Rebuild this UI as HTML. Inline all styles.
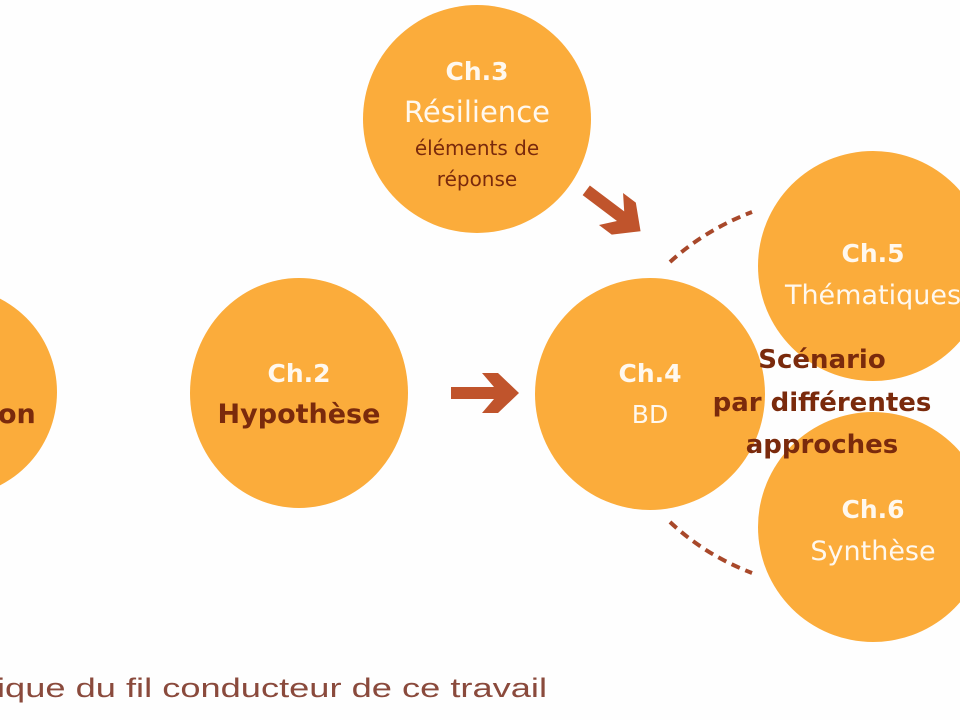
<!DOCTYPE html>
<html><head><meta charset="utf-8"><style>
body{margin:0;background:#fefefe;}
svg{display:block}
text{font-family:"DejaVu Sans","Liberation Sans",sans-serif;}
.b{font-weight:bold}
.n{font-weight:normal}
.m{text-anchor:middle}
</style></head><body>
<svg width="960" height="720" viewBox="0 0 960 720">
<rect width="960" height="720" fill="#fefefe"/>
<g fill="#fbac3b">
<circle cx="-48" cy="392" r="105"/>
<ellipse cx="299" cy="393" rx="109" ry="115"/>
<circle cx="477" cy="119" r="114"/>
<ellipse cx="650" cy="394" rx="115" ry="116"/>
<circle cx="873" cy="266" r="115"/>
<circle cx="873" cy="527" r="115"/>
</g>
<g fill="#c0542c">
<polygon points="451,387 494,387 482,373 498,373 519,393 498,413 482,413 494,399 451,399"/>
<g transform="translate(615,212) rotate(37)">
<polygon points="-36,-6 7,-6 -5,-20 11,-20 32,0 11,20 -5,20 7,6 -36,6"/>
</g>
</g>
<g fill="none" stroke="#a8482a" stroke-width="4" stroke-dasharray="9,6">
<path d="M670,262 Q705,230 752,212"/>
<path d="M670,522 Q705,555 752,573"/>
</g>
<g fill="#fff8ee">
<text class="b m" x="477" y="80" font-size="25">Ch.3</text>
<text class="n m" x="477" y="122" font-size="29">Résilience</text>
<text class="b m" x="299" y="382" font-size="25">Ch.2</text>
<text class="b m" x="650" y="382" font-size="25">Ch.4</text>
<text class="n m" x="650" y="423" font-size="25">BD</text>
<text class="b m" x="873" y="262" font-size="25">Ch.5</text>
<text class="n m" x="873" y="304" font-size="27">Thématiques</text>
<text class="b m" x="873" y="518" font-size="25">Ch.6</text>
<text class="n m" x="873" y="560" font-size="27">Synthèse</text>
</g>
<g fill="#7a2a0c">
<text class="n m" x="477" y="155" font-size="20">éléments de</text>
<text class="n m" x="477" y="186" font-size="20">réponse</text>
<text class="b m" x="299" y="423" font-size="27">Hypothèse</text>
<text class="b" x="-2" y="423" font-size="27">on</text>
<text class="b m" x="822" y="368" font-size="26">Scénario</text>
<text class="b m" x="822" y="411" font-size="26">par différentes</text>
<text class="b m" x="822" y="453" font-size="26">approches</text>
</g>
<text class="n" x="-3" y="697" font-size="27" fill="#8a4a3c" textLength="550" lengthAdjust="spacingAndGlyphs" style="font-family:'Liberation Sans',sans-serif">ique du fil conducteur de ce travail</text>
</svg>
</body></html>
